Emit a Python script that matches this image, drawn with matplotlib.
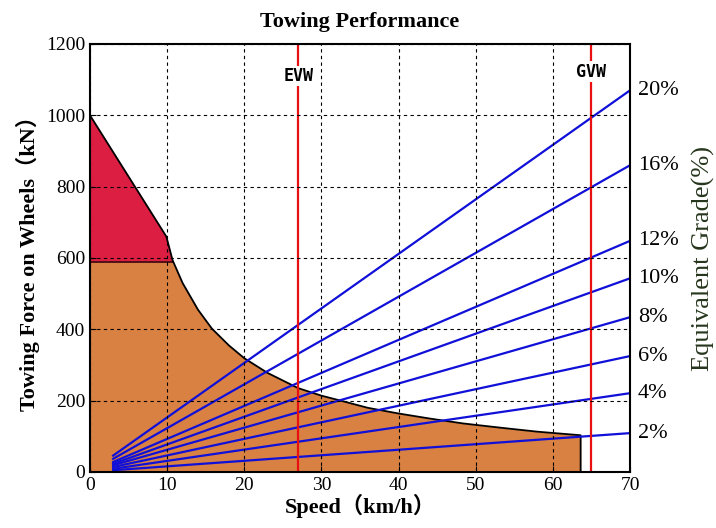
import numpy as np
import matplotlib
matplotlib.use('Agg')
import matplotlib.pyplot as plt

plt.rcParams['font.family'] = ['Liberation Serif', 'Noto Sans CJK SC', 'DejaVu Sans']

# traction curve (speed km/h, force kN)
speed = [0, 9.9, 10.7, 12, 14, 15.8, 18, 20, 23, 27, 30, 32.5, 36, 40, 44, 48.4, 53.3, 58, 63.6]
force = [1000, 660, 594, 530, 455, 402, 355, 319, 278, 235, 214, 200, 180, 164, 150, 136, 124, 113, 103]
adhesion_limit = 588

# grade resistance lines
grades = ['2%', '4%', '6%', '8%', '10%', '12%', '16%', '20%']
grade_start = [5, 9, 14, 19, 23, 28, 37, 46]
grade_end = [109, 221, 325, 434, 543, 648, 860, 1070]
v_start, v_end = 3, 70

evw_speed = 27
gvw_speed = 65

fig = plt.figure(figsize=(7.16, 5.28), dpi=100)
ax = fig.add_axes([90/716, 1-472/528, 540/716, 428/528])

sp = np.array(speed)
fo = np.array(force)
ax.fill_between(sp, 0, np.minimum(fo, adhesion_limit), color='#d98142', lw=0)
mask = sp <= 10.7
ax.fill_between(sp[mask], adhesion_limit, fo[mask], color='#dc1e42', lw=0)
ax.plot([0, 10.7], [adhesion_limit, adhesion_limit], color='#3a0a0a', lw=1.2)
ax.plot(list(speed) + [speed[-1]], list(force) + [0], color='black', lw=1.3)

for g, f0, f1 in zip(grades, grade_start, grade_end):
    ax.plot([v_start, v_end], [f0, f1], color='#1010d8', lw=1.6)
    ax.text(71, f1, g, va='center', ha='left', fontsize=16, clip_on=False)

ax.axvline(evw_speed, color='#e81010', lw=1.6)
ax.axvline(gvw_speed, color='#e81010', lw=1.6)
ax.text(evw_speed, 1110, 'EVW', ha='center', va='center', fontsize=12,
        fontweight='bold', family='DejaVu Sans Mono',
        bbox=dict(facecolor='white', edgecolor='none', pad=1))
ax.text(gvw_speed, 1122, 'GVW', ha='center', va='center', fontsize=12,
        fontweight='bold', family='DejaVu Sans Mono',
        bbox=dict(facecolor='white', edgecolor='none', pad=1))

ax.set_xlim(0, 70)
ax.set_ylim(0, 1200)
ax.set_xticks(range(0, 71, 10))
ax.set_yticks(range(0, 1201, 200))
ax.tick_params(labelsize=14, direction='in', length=4)
ax.grid(True, color='black', linestyle=(0, (3, 3)), lw=0.8)
ax.set_axisbelow(False)
for s in ax.spines.values():
    s.set_linewidth(1.5)

ax.set_title('Towing Performance', fontsize=16, fontweight='bold', pad=12)
ax.set_xlabel('Speed（km/h）', fontsize=16, fontweight='bold', labelpad=0)
ax.set_ylabel('Towing Force on Wheels（kN）', fontsize=16, fontweight='bold', labelpad=4)
fig.text(0.983, 0.51, 'Equivalent Grade(%)', rotation=90, va='center', ha='center',
         fontsize=19, color='#26361c')

fig.savefig('out.png', dpi=100)
